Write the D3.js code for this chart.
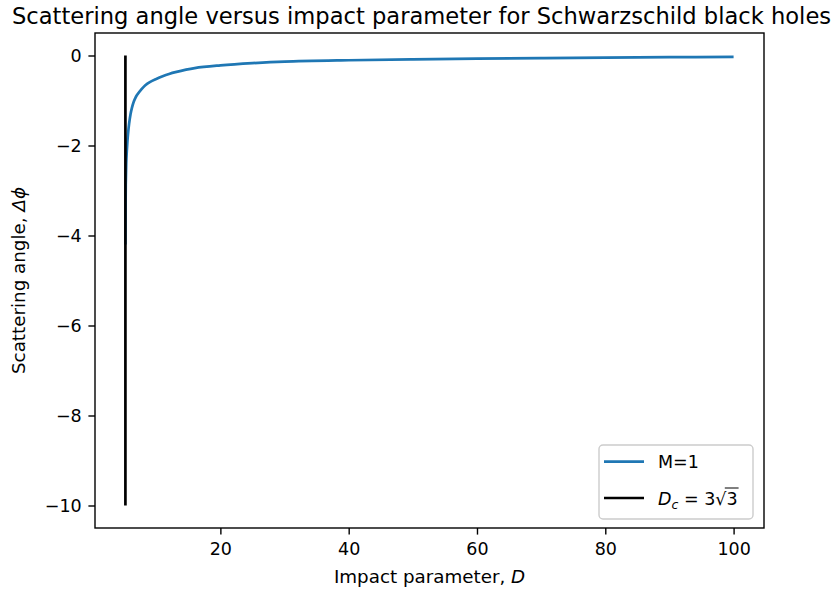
<!DOCTYPE html>
<html>
<head>
<meta charset="utf-8">
<script src="https://cdn.jsdelivr.net/npm/d3@7"></script>
<style>
  body { margin: 0; background: #fff; }
  svg { display: block; font-family: "DejaVu Sans", sans-serif; }
</style>
</head>
<body>
<svg id="chart"></svg>
<script>
// values
var impactD = [5.2, 5.22, 5.25, 5.3, 5.35, 5.5, 5.6, 5.77, 6.0, 6.2, 6.44, 6.7, 7.0, 7.75, 8.3, 9.0, 10.0, 11.0, 12.0, 13.0, 16.0, 20.0, 25.0, 30.0, 40.0, 50.0, 60.0, 70.0, 80.0, 90.0, 100.0];
var scatterAngle = [-4.2, -3.5, -2.87, -2.55, -2.3, -1.93, -1.75, -1.52, -1.3, -1.17, -1.05, -0.96, -0.88, -0.74, -0.66, -0.59, -0.52, -0.46, -0.41, -0.37, -0.28, -0.22, -0.17, -0.135, -0.105, -0.085, -0.07, -0.058, -0.047, -0.038, -0.032];
var criticalD = [5.196, 5.196];
var criticalY = [-10, 0];
var xTicks = [20, 40, 60, 80, 100];
var yTicks = [-10, -8, -6, -4, -2, 0];

var width = 837, height = 595;
var margin = {top: 33, right: 73, bottom: 67, left: 95};
var w = width - margin.left - margin.right,
	h = height - margin.top - margin.bottom;
var tickFs = 17.5, labelFs = 18.3, tickLen = 6.6;

var svg = d3.select("#chart").attr("width", width).attr("height", height);

// matplotlib style 5% margins
function padded(arr){
	var e = d3.extent(arr), p = (e[1]-e[0])*0.05;
	return [e[0]-p, e[1]+p];
}
var x = d3.scaleLinear().domain(padded(impactD.concat(criticalD))).range([0, w]);
var y = d3.scaleLinear().domain(padded(scatterAngle.concat(criticalY))).range([h, 0]);

var g = svg.append("g").attr("transform", "translate(" + margin.left + "," + margin.top + ")");

var line = d3.line().x(function(d){return x(d[0]);}).y(function(d){return y(d[1]);});

g.append("path")
	.datum(d3.zip(impactD, scatterAngle))
	.attr("fill", "none").attr("stroke", "#1f77b4").attr("stroke-width", 2.7)
	.attr("d", line.curve(d3.curveCatmullRom.alpha(0.5)));

g.append("path")
	.datum(d3.zip(criticalD, criticalY))
	.attr("fill", "none").attr("stroke", "#000").attr("stroke-width", 2.7)
	.attr("d", d3.line().x(function(d){return x(d[0]);}).y(function(d){return y(d[1]);}));

// axes
var xAxis = g.append("g").attr("transform", "translate(0," + h + ")")
	.call(d3.axisBottom(x).tickValues(xTicks).tickSize(tickLen).tickPadding(8).tickSizeOuter(0));
var yAxis = g.append("g")
	.call(d3.axisLeft(y).tickValues(yTicks).tickSize(tickLen).tickPadding(6.7).tickSizeOuter(0));
[xAxis, yAxis].forEach(function(a){
	a.select(".domain").remove();
	a.selectAll(".tick line").attr("stroke", "#000").attr("stroke-width", 1.4);
	a.selectAll(".tick text").attr("fill", "#000").style("font-size", tickFs + "px").style("font-family", "DejaVu Sans");
});

g.append("rect").attr("width", w).attr("height", h)
	.attr("fill", "none").attr("stroke", "#000").attr("stroke-width", 1.4);

// title and labels
svg.append("text").attr("x", 421.5).attr("y", 24)
	.attr("text-anchor", "middle").style("font-size", "22.6px")
	.text("Scattering angle versus impact parameter for Schwarzschild black holes");

var xl = svg.append("text").attr("x", margin.left + w/2).attr("y", 583)
	.attr("text-anchor", "middle").style("font-size", labelFs + "px");
xl.append("tspan").text("Impact parameter, ");
xl.append("tspan").style("font-style", "italic").text("D");

var yl = svg.append("text")
	.attr("transform", "translate(25," + (margin.top + h/2) + ") rotate(-90)")
	.attr("text-anchor", "middle").style("font-size", labelFs + "px");
yl.append("tspan").text("Scattering angle, ");
yl.append("tspan").style("font-style", "italic").text("Δϕ");

// legend
var lg = svg.append("g").attr("transform", "translate(599,445)");
lg.append("rect").attr("width", 154).attr("height", 74).attr("rx", 4)
	.attr("fill", "#fff").attr("fill-opacity", 0.8).attr("stroke", "#ccc").attr("stroke-width", 1.4);
var legendItems = [{label: "M=1", color: "#1f77b4"}, {label: "Dc", color: "#000"}];
legendItems.forEach(function(d, i){
	var cy = 16.7 + i*36.3;
	lg.append("line").attr("x1", 5).attr("x2", 45).attr("y1", cy).attr("y2", cy)
		.attr("stroke", d.color).attr("stroke-width", 2.7);
	var t = lg.append("text").attr("x", 59).attr("y", cy + 6.5).style("font-size", tickFs + "px");
	if(i === 0){
		t.text(d.label);
	}else{
		t.append("tspan").style("font-style", "italic").text("D");
		t.append("tspan").attr("dy", 4).style("font-style", "italic").style("font-size", "12.5px").text("c");
		t.append("tspan").attr("dy", -4).text(" = 3");
		t.append("tspan").text("√");
		t.append("tspan").text("3");
		var n = t.node(), k = n.getNumberOfChars();
		var radStart = n.getStartPositionOfChar(k-2);
		var end = n.getEndPositionOfChar(k-1);
		lg.append("line").attr("x1", radStart.x + 9.5).attr("x2", end.x + 1)
			.attr("y1", cy - 10).attr("y2", cy - 10).attr("stroke", "#000").attr("stroke-width", 1);
	}
});
</script>
</body>
</html>
